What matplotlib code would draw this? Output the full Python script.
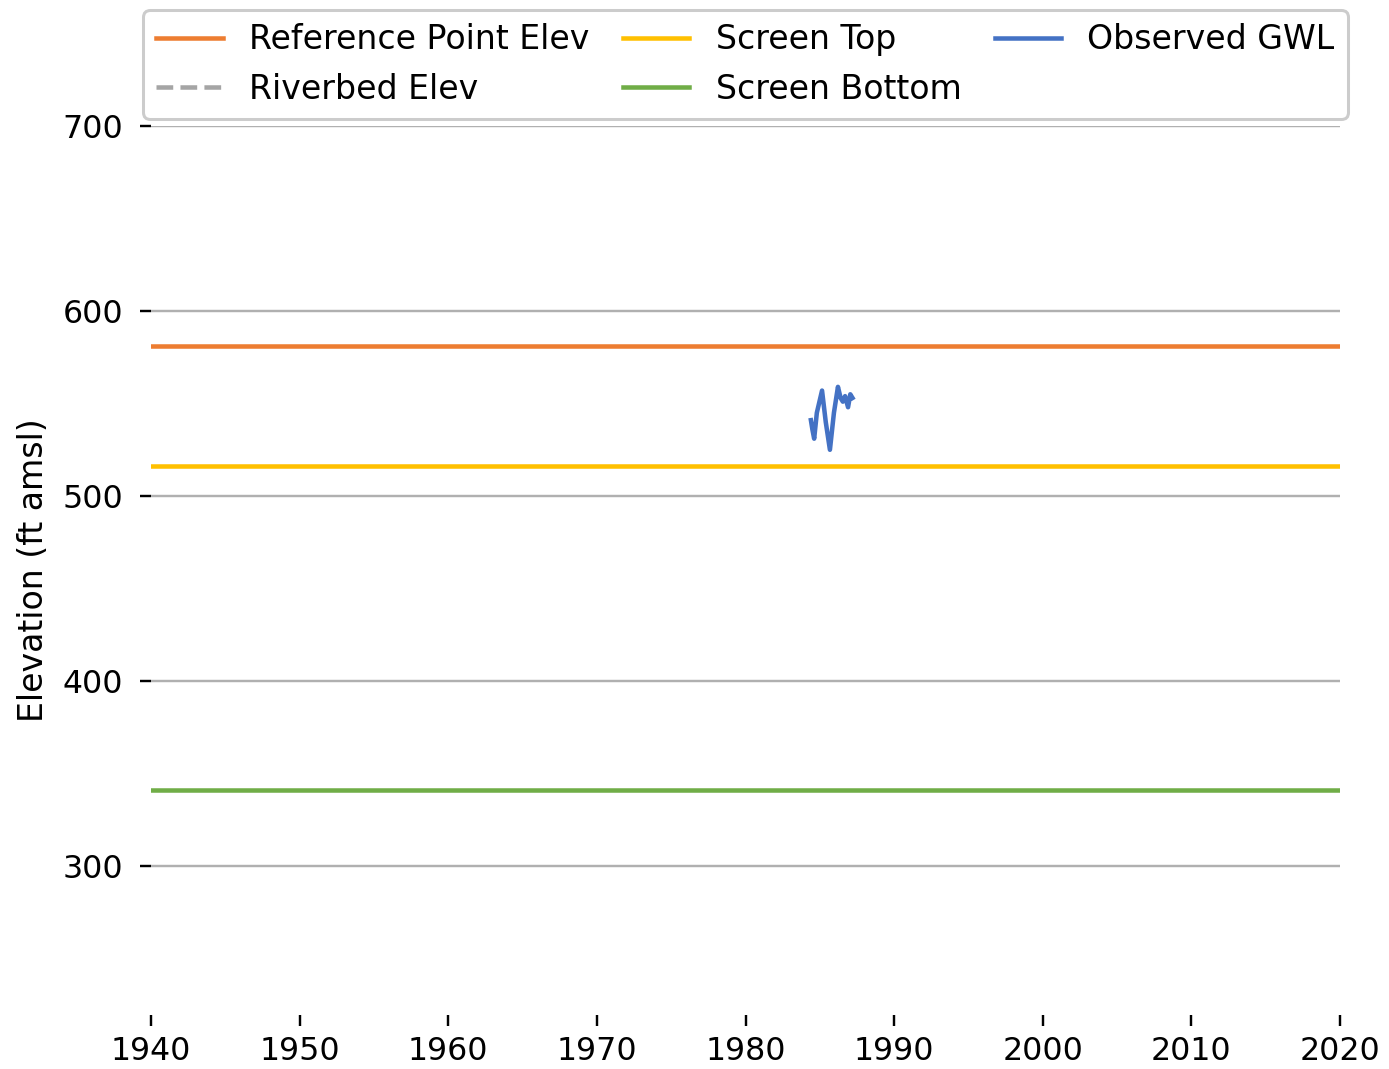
import numpy as np
import matplotlib
matplotlib.use("Agg")
import matplotlib.pyplot as plt

# well construction / reference elevations (ft amsl)
ref_point_elev = 581.0
riverbed_elev = np.nan  # no riverbed value for this well
screen_top = 516.0
screen_bottom = 341.0

# observed groundwater levels
gwl_years = [1984.40, 1984.50, 1984.62, 1984.80, 1985.15, 1985.40, 1985.68,
             1985.95, 1986.22, 1986.40, 1986.55, 1986.70, 1986.90, 1987.05, 1987.20]
gwl_elev = [541.0, 536.0, 531.0, 545.0, 557.0, 540.0, 525.0,
            545.0, 559.0, 553.0, 551.0, 554.0, 548.0, 555.0, 553.0]

xlim = (1940, 2020)
ylim = (219.5, 700)

colors = {
    "ref": "#ED7D31",
    "river": "#A5A5A5",
    "top": "#FFC000",
    "bottom": "#70AD47",
    "gwl": "#4472C4",
}

fig = plt.figure(figsize=(1389 / 217, 1069 / 217), dpi=217)
ax = fig.add_axes([151 / 1389, 1 - 1015 / 1069, (1340 - 151) / 1389, (1015 - 126) / 1069])

x_full = list(xlim)
ax.plot(x_full, [ref_point_elev] * 2, color=colors["ref"], lw=1.5, label="Reference Point Elev")
ax.plot(x_full, [riverbed_elev] * 2, color=colors["river"], lw=1.5, ls="--", label="Riverbed Elev")
ax.plot(x_full, [screen_top] * 2, color=colors["top"], lw=1.5, label="Screen Top")
ax.plot(x_full, [screen_bottom] * 2, color=colors["bottom"], lw=1.5, label="Screen Bottom")
ax.plot(gwl_years, gwl_elev, color=colors["gwl"], lw=1.5, label="Observed GWL")

ax.set_xlim(*xlim)
ax.set_ylim(*ylim)
ax.set_xticks(np.arange(1940, 2021, 10))
ax.set_yticks([300, 400, 500, 600, 700])
ax.grid(axis="y", color="#b0b0b0", lw=0.8)
ax.set_axisbelow(True)
for s in ax.spines.values():
    s.set_visible(False)
ax.tick_params(labelsize=10.5)
ax.tick_params(axis="y", pad=5.8)
ax.set_ylabel("Elevation (ft amsl)", fontsize=11)

fig.legend(*ax.get_legend_handles_labels(), loc="upper center",
           bbox_to_anchor=((151 + 1340) / 2 / 1389, 1 - 10 / 1069),
           ncol=3, fontsize=11, columnspacing=1.0, borderaxespad=0.0,
           framealpha=1)

fig.savefig("out.png", dpi=217)
